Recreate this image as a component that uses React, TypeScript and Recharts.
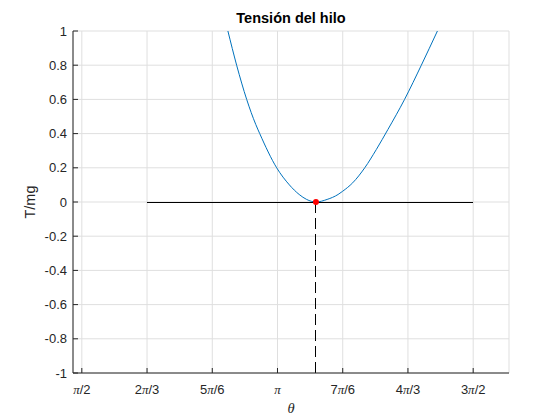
import { LineChart, Line, XAxis, YAxis, CartesianGrid } from "recharts";

// blue curve: T/mg
const thetaCurve = [
  2.7435, 2.8136, 2.8942, 2.9668, 2.999, 3.135, 3.237, 3.3157, 3.3753, 3.4502,
  3.54, 3.628, 3.665, 3.745, 3.842, 3.935, 4.028, 4.1617, 4.2963, 4.4253,
];
const tensionCurve = [
  1.0, 0.8, 0.6, 0.454, 0.4, 0.2, 0.1, 0.044, 0.015, 0,
  0.015, 0.044, 0.063, 0.112, 0.2, 0.307, 0.424, 0.6, 0.8, 1.0,
];

// black zero line and the dashed marker at the minimum
const zeroLineTheta = [(2 * Math.PI) / 3, (3 * Math.PI) / 2];
const zeroLineValue = [0, 0];
const minTheta = [3.4502, 3.4502];
const minValue = [0, -1];

const xTickValues = [Math.PI / 2, (2 * Math.PI) / 3, (5 * Math.PI) / 6, Math.PI, (7 * Math.PI) / 6, (4 * Math.PI) / 3, (3 * Math.PI) / 2];
const xTickLabels = ["π/2", "2π/3", "5π/6", "π", "7π/6", "4π/3", "3π/2"];
const yTickValues = [-1, -0.8, -0.6, -0.4, -0.2, 0, 0.2, 0.4, 0.6, 0.8, 1];

const toPoints = (xs: number[], ys: number[]) => xs.map((x, i) => ({ x, t: ys[i] }));

const curveData = toPoints(thetaCurve, tensionCurve);
const zeroData = toPoints(zeroLineTheta, zeroLineValue);
const dashData = toPoints(minTheta, minValue);
const dotData = toPoints([minTheta[0]], [minValue[0]]);

const AXIS = "#262626";
const FONT = "'Liberation Sans', Arial, sans-serif";

const XTick = (props: any) => {
  const { x, y, index } = props;
  const parts = xTickLabels[index].split("π");
  return (
    <g>
      <line x1={x} x2={x} y1={y} y2={y - 5} stroke={AXIS} />
      <text x={x} y={y + 21} textAnchor="middle" fontSize={13} fill={AXIS} fontFamily={FONT}>
        {parts[0]}
        <tspan fontFamily="'Liberation Serif', serif" fontStyle="italic">π</tspan>
        {parts[1]}
      </text>
    </g>
  );
};

const YTick = (props: any) => {
  const { x, y, payload } = props;
  return (
    <g>
      <line x1={x} x2={x + 5} y1={y} y2={y} stroke={AXIS} />
      <text x={x - 6} y={y + 4.5} textAnchor="end" fontSize={13} fill={AXIS} fontFamily={FONT}>
        {String(payload.value)}
      </text>
    </g>
  );
};

export default function App() {
  return (
    <div style={{ position: "absolute", left: 0, top: 0, width: 560, height: 420, background: "#fff" }}>
      <div
        style={{
          position: "absolute",
          left: 73,
          width: 436,
          top: 10,
          textAlign: "center",
          fontFamily: FONT,
          fontWeight: "bold",
          fontSize: 14.5,
          lineHeight: "17px",
          color: "#000",
        }}
      >
        Tensión del hilo
      </div>
      <LineChart width={560} height={420} margin={{ top: 31, right: 51, bottom: 0, left: 0 }}>
        <CartesianGrid stroke="#dfdfdf" />
        <XAxis
          type="number"
          dataKey="x"
          domain={[1.5, 5]}
          ticks={xTickValues}
          allowDataOverflow
          height={47}
          tickSize={0}
          tickMargin={0}
          tickLine={false}
          axisLine={{ stroke: AXIS }}
          tick={<XTick />}
          interval={0}
          label={({ viewBox }: any) => (
            <text
              x={viewBox.x + viewBox.width / 2}
              y={viewBox.y + 40}
              textAnchor="middle"
              fontSize={14.5}
              fill={AXIS}
              fontFamily="'Liberation Serif', serif"
              fontStyle="italic"
            >
              θ
            </text>
          )}
        />
        <YAxis
          type="number"
          dataKey="t"
          domain={[-1, 1]}
          ticks={yTickValues}
          allowDataOverflow
          width={73}
          tickSize={0}
          tickMargin={0}
          tickLine={false}
          axisLine={{ stroke: AXIS }}
          tick={<YTick />}
          interval={0}
          label={({ viewBox }: any) => (
            <text
              x={35}
              y={viewBox.y + viewBox.height / 2}
              textAnchor="middle"
              fontSize={14.5}
              fill={AXIS}
              fontFamily={FONT}
              transform={`rotate(-90, 35, ${viewBox.y + viewBox.height / 2})`}
            >
              T/mg
            </text>
          )}
        />
        <Line data={curveData} dataKey="t" type="monotone" stroke="#0072BD" strokeWidth={1} dot={false} isAnimationActive={false} />
        <Line data={zeroData} dataKey="t" type="linear" stroke="#000" strokeWidth={1} shapeRendering="crispEdges" dot={false} isAnimationActive={false} />
        <Line data={dashData} dataKey="t" type="linear" stroke="#000" strokeWidth={1} strokeDasharray="11 5" shapeRendering="crispEdges" dot={false} isAnimationActive={false} />
        <Line
          data={dotData}
          dataKey="t"
          stroke="none"
          dot={{ r: 3, fill: "#ff0000", stroke: "none" }}
          isAnimationActive={false}
        />
      </LineChart>
    </div>
  );
}
